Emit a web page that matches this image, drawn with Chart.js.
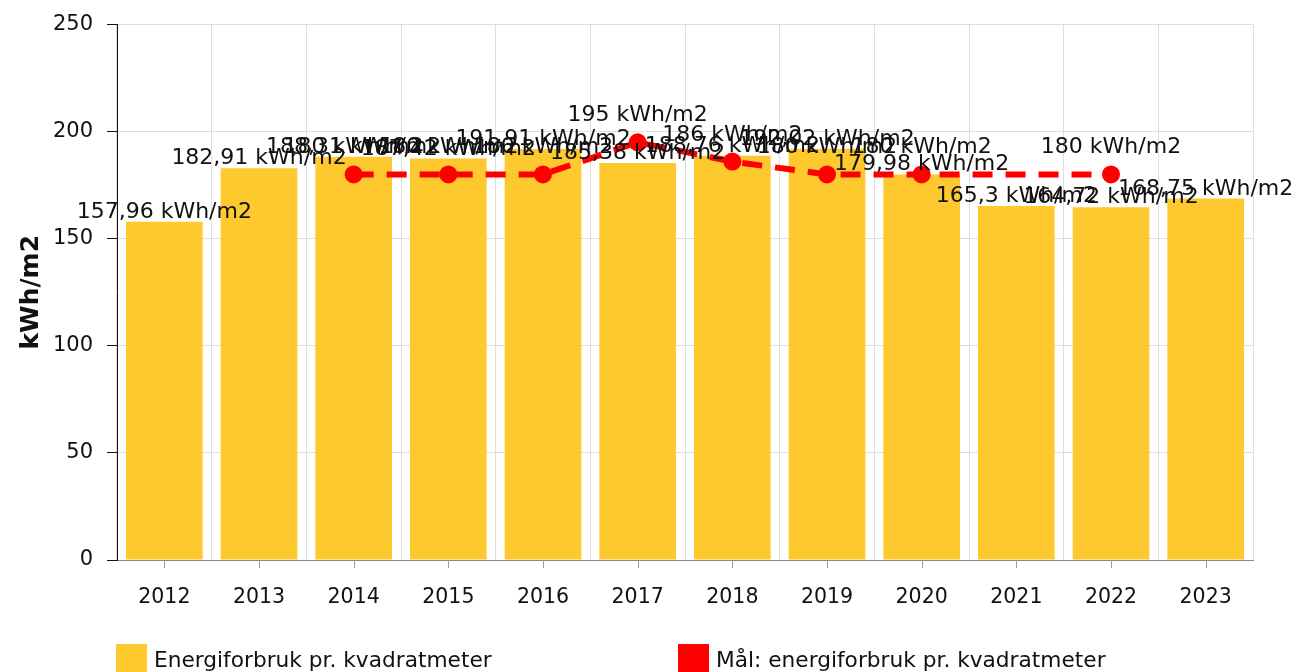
<!DOCTYPE html>
<html>
<head>
  <meta charset="utf-8">
  <title>Energiforbruk pr. kvadratmeter</title>
  <script src="https://cdn.jsdelivr.net/npm/chart.js"></script>
  <style>
    body {
      margin: 0;
      background: #fff;
      font-family: "DejaVu Sans", sans-serif;
    }
    #wrap {
      position: relative;
      width: 1309px;
      height: 672px;
    }
    #legend {
      position: absolute;
      left: 116px;
      top: 644px;
      display: flex;
    }
    .item {
      display: flex;
      align-items: center;
      width: 562px;
      font-size: 21.7px;
      color: #111;
    }
    .box {
      width: 31px;
      height: 30px;
      margin-right: 7px;
    }
  </style>
</head>
<body>
  <div id="wrap">
    <canvas id="chart" width="1309" height="672"></canvas>
    <div id="legend"></div>
  </div>

  <script>
    // ------------------- DATA --------------------
    const years = ['2012', '2013', '2014', '2015', '2016', '2017', '2018', '2019', '2020', '2021', '2022', '2023'];
    const energy = [157.96, 182.91, 188.31, 187.42, 191.91, 185.38, 188.76, 192.02, 179.98, 165.3, 164.72, 168.75];
    const target = [null, null, 180, 180, 180, 195, 186, 180, 180, null, 180, null];
    const unit = 'kWh/m2';

    const YELLOW = 'rgb(253, 201, 47)';
    const RED = '#ff0000';
    const FONT = '"DejaVu Sans", sans-serif';

    const fmt = (v) => String(v).replace('.', ',') + ' ' + unit;

    // value labels above bars and points
    const valueLabels = {
      id: 'valueLabels',
      afterDatasetsDraw(chart) {
        const ctx = chart.ctx;
        ctx.save();
        ctx.font = '22px ' + FONT;
        ctx.fillStyle = '#111';
        ctx.textAlign = 'center';
        ctx.textBaseline = 'alphabetic';
        chart.data.datasets.forEach((ds, i) => {
          const meta = chart.getDatasetMeta(i);
          const off = ds.type === 'line' ? 21 : 4;
          meta.data.forEach((el, j) => {
            const v = ds.data[j];
            if (v === null || v === undefined) return;
            ctx.fillText(fmt(v), el.x, el.y - off);
          });
        });
        ctx.restore();
      }
    };

    // small tick marks under category centres (grid lines sit between bars)
    const centreTicks = {
      id: 'centreTicks',
      afterDraw(chart) {
        const x = chart.scales.x;
        const ctx = chart.ctx;
        ctx.save();
        ctx.strokeStyle = '#999';
        ctx.lineWidth = 1;
        years.forEach((y, i) => {
          const px = Math.round(x.getPixelForValue(i)) + 0.5;
          ctx.beginPath();
          ctx.moveTo(px, x.top);
          ctx.lineTo(px, x.top + 8);
          ctx.stroke();
        });
        ctx.restore();
      }
    };

    const chart = new Chart(document.getElementById('chart'), {
      data: {
        labels: years,
        datasets: [{
          type: 'bar',
          label: 'Energiforbruk pr. kvadratmeter',
          data: energy,
          backgroundColor: YELLOW,
          barPercentage: 0.9,
          categoryPercentage: 0.9,
          order: 2
        }, {
          type: 'line',
          label: 'Mål: energiforbruk pr. kvadratmeter',
          data: target,
          borderColor: RED,
          backgroundColor: RED,
          borderWidth: 6,
          borderDash: [20, 13],
          pointRadius: 9,
          pointHoverRadius: 9,
          pointBorderWidth: 0,
          spanGaps: true,
          tension: 0,
          order: 1
        }]
      },
      plugins: [valueLabels, centreTicks],
      options: {
        responsive: false,
        animation: false,
        layout: { padding: { top: 23, right: 56, left: 0, bottom: 0 } },
        plugins: {
          legend: { display: false },
          tooltip: { enabled: false }
        },
        scales: {
          x: {
            afterFit: (s) => { s.height = 112; },
            grid: { color: '#dedede', drawTicks: false, offset: true },
            border: { color: '#888' },
            ticks: { color: '#111', font: { family: FONT, size: 20.5 }, padding: 25 }
          },
          y: {
            min: 0,
            max: 250,
            afterFit: (s) => { s.width = 117; },
            grid: { color: '#dedede', tickColor: '#111', tickLength: 10 },
            border: { color: '#111' },
            ticks: { stepSize: 50, color: '#111', font: { family: FONT, size: 21, lineHeight: 1 }, padding: 14 },
            title: {
              display: true,
              text: unit,
              color: '#111',
              font: { family: FONT, size: 25, weight: 'bold' },
              padding: { top: 16, bottom: 0 }
            }
          }
        }
      }
    });

    // HTML legend, built from the datasets
    const legend = document.getElementById('legend');
    chart.data.datasets.forEach((ds) => {
      const item = document.createElement('div');
      item.className = 'item';
      const box = document.createElement('span');
      box.className = 'box';
      box.style.background = ds.backgroundColor;
      item.appendChild(box);
      item.appendChild(document.createTextNode(ds.label));
      legend.appendChild(item);
    });
  </script>
</body>
</html>
